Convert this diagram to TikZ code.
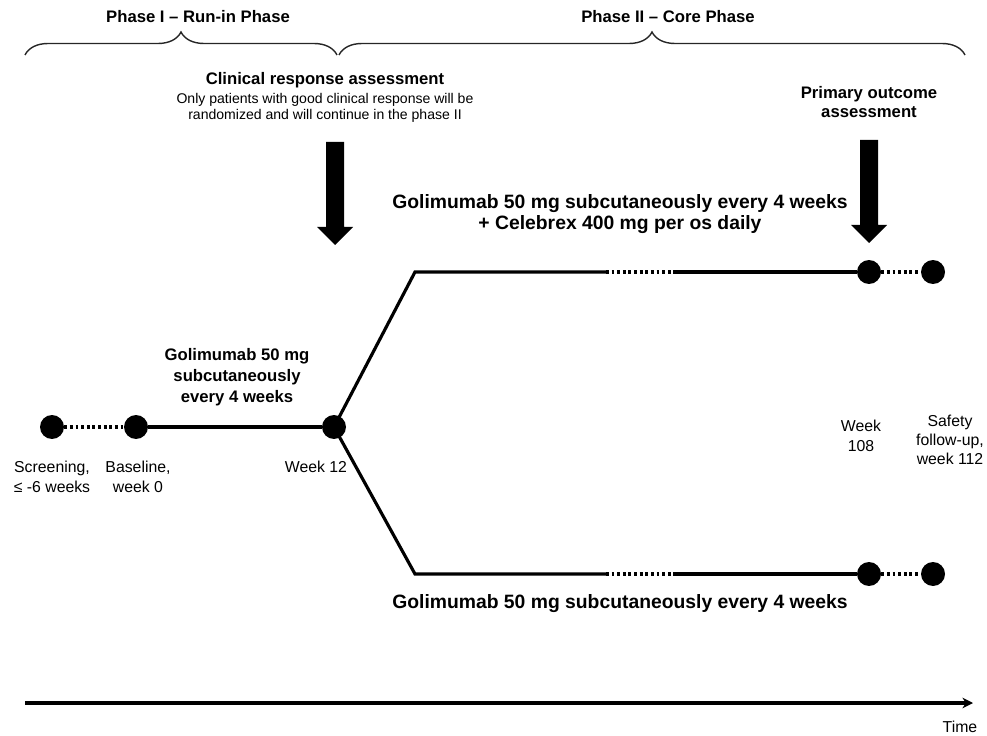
\documentclass[tikz,border=0pt]{standalone}
\usepackage{fontspec}
\setmainfont{Liberation Sans}
\usetikzlibrary{arrows.meta}
\usetikzlibrary{decorations.pathreplacing}

\begin{document}
\begin{tikzpicture}[x=0.02cm, y=-0.02cm,
    visit/.style={circle, fill=black, inner sep=0pt, minimum size=0.48cm},
    track/.style={line width=1.8pt},
    gap/.style={line width=1.8pt, dash pattern=on 1.6pt off 1.6pt},
    phasebrace/.style={decorate, decoration={brace, amplitude=0.46cm}, line width=0.8pt, black!85},
    head/.style={font=\fontsize{9.5}{10.8}\selectfont\bfseries, align=center},
    drug/.style={font=\fontsize{11}{11.9}\selectfont\bfseries, align=center},
    when/.style={font=\fontsize{9}{11.2}\selectfont, align=center}]
    \useasboundingbox (0,0) rectangle (987,736);

    \node[head] (phaseI) at (198,17) {Phase I -- Run-in Phase};
    \node[head] (phaseII) at (668,17) {Phase II -- Core Phase};
    \draw[phasebrace] (25,55) -- (337,55);
    \draw[phasebrace] (339,55) -- (965,55);

    \node[head] (clin) at (325,80) {Clinical response assessment};
    \node[font=\fontsize{8}{9.1}\selectfont, align=center] (note) at (325,108) {Only patients with good clinical response will be\\randomized and will continue in the phase II};
    \node[head] (prim) at (869,102) {Primary outcome\\assessment};

    \fill (335,142) ++(-9,0) -- ++(18,0) -- ++(0,85) -- ++(9,0) -- ++(-18,18) -- ++(-18,-18) -- ++(9,0) -- cycle;
    \fill (869,140) ++(-9,0) -- ++(18,0) -- ++(0,85) -- ++(9,0) -- ++(-18,18) -- ++(-18,-18) -- ++(9,0) -- cycle;

    \node[drug] (combo) at (620,214) {Golimumab 50 mg subcutaneously every 4 weeks\\+ Celebrex 400 mg per os daily};
    \node[drug] (mono) at (620,604) {Golimumab 50 mg subcutaneously every 4 weeks};
    \node[head, font=\fontsize{9.5}{12}\selectfont\bfseries] (runin) at (237,377) {Golimumab 50 mg\\subcutaneously\\every 4 weeks};

    \node[visit] (scr) at (52,427) {};
    \node[visit] (base) at (136,427) {};
    \node[visit] (wk12) at (334,427) {};
    \node[visit] (up108) at (869,272) {};
    \node[visit] (up112) at (933,272) {};
    \node[visit] (lo108) at (869,574) {};
    \node[visit] (lo112) at (933,574) {};

    \coordinate (upbend) at (415,272);
    \coordinate (upgapA) at (606,272);
    \coordinate (upgapB) at (674,272);
    \coordinate (lobend) at (415,574);
    \coordinate (logapA) at (606,574);
    \coordinate (logapB) at (674,574);

    \draw[gap] (scr) -- (base);
    \draw[track] (base) -- (wk12);
    \draw[track] (wk12.center) -- (upbend) -- (upgapA);
    \draw[gap] (upgapA) -- (upgapB);
    \draw[track] (upgapB) -- (up108);
    \draw[gap] (up108) -- (up112);
    \draw[track] (wk12.center) -- (lobend) -- (logapA);
    \draw[gap] (logapA) -- (logapB);
    \draw[track] (logapB) -- (lo108);
    \draw[gap] (lo108) -- (lo112);

    \node[when] (scrlbl) at (52,477) {Screening,\\≤ -6 weeks};
    \node[when] (baselbl) at (138,477) {Baseline,\\week 0};
    \node[when] (wk12lbl) at (316,467) {Week 12};
    \node[when] (wk108lbl) at (861,436) {Week\\108};
    \node[when, font=\fontsize{9}{10.8}\selectfont] (safelbl) at (950,440) {Safety\\follow-up,\\week 112};

    \coordinate (tstart) at (25,703);
    \coordinate (tend) at (973,703);
    \draw[line width=1.8pt, -{Stealth[length=6pt, width=6pt]}] (tstart) -- (tend);
    \node[when] (time) at (960,727) {Time};
\end{tikzpicture}
\end{document}
